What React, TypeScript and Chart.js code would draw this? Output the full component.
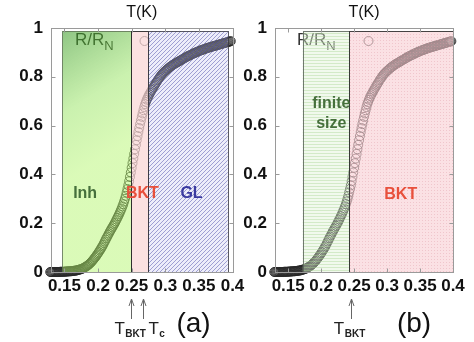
import React, { useEffect, useRef } from 'react';
import { Chart, registerables } from 'chart.js';

Chart.register(...registerables);

// ---- data ----
const tempK = [
  0.125, 0.12625, 0.1275, 0.12875, 0.13, 0.13125, 0.1325, 0.13375,
  0.135, 0.13625, 0.1375, 0.13875, 0.14, 0.14125, 0.1425, 0.14375,
  0.145, 0.14625, 0.1475, 0.14875, 0.15, 0.15125, 0.1525, 0.15375,
  0.155, 0.15625, 0.1575, 0.15875, 0.16, 0.16125, 0.1625, 0.16375,
  0.165, 0.16625, 0.1675, 0.16875, 0.17, 0.17125, 0.1725, 0.17375,
  0.175, 0.17625, 0.1775, 0.17875, 0.18, 0.18125, 0.1825, 0.18375,
  0.185, 0.18625, 0.1875, 0.18875, 0.19, 0.19125, 0.1925, 0.19375,
  0.195, 0.19625, 0.1975, 0.19875, 0.2, 0.20125, 0.2025, 0.20375,
  0.205, 0.20625, 0.2075, 0.20875, 0.21, 0.21125, 0.2125, 0.21375,
  0.215, 0.21625, 0.2175, 0.21875, 0.22, 0.22125, 0.2225, 0.22375,
  0.225, 0.22625, 0.2275, 0.22875, 0.23, 0.23125, 0.2325, 0.23375,
  0.235, 0.23625, 0.2375, 0.23875, 0.24, 0.24125, 0.2425, 0.24375,
  0.245, 0.24625, 0.2475, 0.24875, 0.25, 0.25125, 0.2525, 0.25375,
  0.255, 0.25625, 0.2575, 0.25875, 0.26, 0.26125, 0.2625, 0.26375,
  0.265, 0.26625, 0.2675, 0.26875, 0.27, 0.27125, 0.2725, 0.27375,
  0.275, 0.27625, 0.2775, 0.27875, 0.28, 0.28125, 0.2825, 0.28375,
  0.285, 0.28625, 0.2875, 0.28875, 0.29, 0.29125, 0.2925, 0.29375,
  0.295, 0.29625, 0.2975, 0.29875, 0.3, 0.30125, 0.3025, 0.30375,
  0.305, 0.30625, 0.3075, 0.30875, 0.31, 0.31125, 0.3125, 0.31375,
  0.315, 0.31625, 0.3175, 0.31875, 0.32, 0.32125, 0.3225, 0.32375,
  0.325, 0.32625, 0.3275, 0.32875, 0.33, 0.33125, 0.3325, 0.33375,
  0.335, 0.33625, 0.3375, 0.33875, 0.34, 0.34125, 0.3425, 0.34375,
  0.345, 0.34625, 0.3475, 0.34875, 0.35, 0.35125, 0.3525, 0.35375,
  0.355, 0.35625, 0.3575, 0.35875, 0.36, 0.36125, 0.3625, 0.36375,
  0.365, 0.36625, 0.3675, 0.36875, 0.37, 0.37125, 0.3725, 0.37375,
  0.375, 0.37625, 0.3775, 0.37875, 0.38, 0.38125, 0.3825, 0.38375,
  0.385, 0.38625, 0.3875, 0.38875, 0.39, 0.39125, 0.3925, 0.39375,
  0.395, 0.39625, 0.3975,
];
const rNorm = [
  0, 0, 0, 0, 0, 0, 0, 0,
  0, 0, 0, 0, 0, 0, 0, 0.001,
  0.001, 0.001, 0.001, 0.001, 0.001, 0.002, 0.002, 0.002,
  0.002, 0.003, 0.003, 0.003, 0.003, 0.004, 0.004, 0.005,
  0.005, 0.006, 0.006, 0.007, 0.008, 0.009, 0.01, 0.011,
  0.012, 0.013, 0.015, 0.017, 0.019, 0.021, 0.023, 0.025,
  0.028, 0.031, 0.034, 0.037, 0.041, 0.045, 0.049, 0.053,
  0.058, 0.062, 0.067, 0.072, 0.077, 0.082, 0.088, 0.093,
  0.099, 0.105, 0.111, 0.118, 0.125, 0.132, 0.139, 0.145,
  0.152, 0.158, 0.165, 0.171, 0.177, 0.183, 0.189, 0.195,
  0.201, 0.208, 0.215, 0.222, 0.229, 0.236, 0.244, 0.252,
  0.26, 0.269, 0.278, 0.289, 0.3, 0.312, 0.326, 0.34,
  0.355, 0.372, 0.39, 0.408, 0.427, 0.446, 0.465, 0.484,
  0.503, 0.521, 0.54, 0.557, 0.574, 0.59, 0.606, 0.621,
  0.636, 0.65, 0.663, 0.676, 0.688, 0.697, 0.706, 0.714,
  0.721, 0.728, 0.734, 0.74, 0.746, 0.752, 0.758, 0.764,
  0.769, 0.775, 0.78, 0.786, 0.791, 0.796, 0.801, 0.806,
  0.81, 0.814, 0.817, 0.821, 0.824, 0.827, 0.83, 0.833,
  0.836, 0.839, 0.841, 0.844, 0.846, 0.849, 0.851, 0.853,
  0.855, 0.857, 0.859, 0.861, 0.863, 0.865, 0.867, 0.869,
  0.871, 0.873, 0.875, 0.877, 0.879, 0.881, 0.883, 0.885,
  0.886, 0.888, 0.889, 0.891, 0.893, 0.895, 0.896, 0.898,
  0.899, 0.901, 0.902, 0.904, 0.905, 0.907, 0.908, 0.909,
  0.91, 0.912, 0.913, 0.914, 0.915, 0.917, 0.918, 0.919,
  0.92, 0.921, 0.922, 0.923, 0.924, 0.925, 0.926, 0.927,
  0.928, 0.929, 0.93, 0.931, 0.932, 0.933, 0.934, 0.935,
  0.936, 0.937, 0.938, 0.939, 0.94, 0.941, 0.942, 0.943,
  0.944, 0.945, 0.946,
];
const xTickValues = [0.15, 0.2, 0.25, 0.3, 0.35, 0.4];
const yTickValues = [0, 0.2, 0.4, 0.6, 0.8, 1];
const xRange = [0.13, 0.4];
const yRange = [0, 1];

// panel (a): Inh | BKT | GL region edges in T(K)
const regionEdgesA = [0.147, 0.249, 0.2746, 0.393];
const regionTopA = 0.987;
// panel (b): finite size | BKT region edges in T(K)
const regionEdgesB = [0.172, 0.2428, 0.4];
const regionTopB = 0.988;
// arrows below axis
const tBKTa = 0.2497;
const tCa = 0.2675;
const tBKTb = 0.245;

const FAMILY = "'Liberation Sans', Arial, Helvetica, sans-serif";
const GREEN_TXT = '#46703c';
const RED_TXT = '#e8503c';
const BLUE_TXT = '#3a3aa0';

function makeTile(w: number, h: number, draw: (g: CanvasRenderingContext2D) => void) {
  const c = document.createElement('canvas');
  c.width = w;
  c.height = h;
  const g = c.getContext('2d')!;
  draw(g);
  return c;
}

const hatchTile = () =>
  makeTile(4, 4, (g) => {
    g.fillStyle = 'rgba(195,195,238,0.3)';
    g.fillRect(0, 0, 4, 4);
    g.strokeStyle = 'rgba(80,80,170,0.5)';
    g.lineWidth = 1;
    g.beginPath();
    g.moveTo(0, 4); g.lineTo(4, 0);
    g.moveTo(-1, 1); g.lineTo(1, -1);
    g.moveTo(3, 5); g.lineTo(5, 3);
    g.stroke();
  });
const stripeTile = () =>
  makeTile(1, 3, (g) => {
    g.fillStyle = 'rgba(220,240,210,0.4)';
    g.fillRect(0, 0, 1, 3);
    g.fillStyle = 'rgba(170,215,150,0.42)';
    g.fillRect(0, 0, 1, 1);
  });
const dotTile = () =>
  makeTile(3, 3, (g) => {
    g.fillStyle = 'rgba(248,205,210,0.6)';
    g.fillRect(0, 0, 3, 3);
    g.fillStyle = 'rgba(225,160,170,0.4)';
    g.fillRect(1, 1, 1, 1);
  });

type Panel = 'a' | 'b';

function drawSubLabel(ctx: CanvasRenderingContext2D, x: number, y: number, sub: string) {
  ctx.save();
  ctx.fillStyle = '#222';
  ctx.textAlign = 'left';
  ctx.textBaseline = 'alphabetic';
  ctx.font = `17px ${FAMILY}`;
  ctx.fillText('T', x, y);
  const w = ctx.measureText('T').width;
  ctx.font = `bold 10px ${FAMILY}`;
  ctx.fillText(sub, x + w + 0.5, y + 3);
  ctx.restore();
}

function drawArrow(ctx: CanvasRenderingContext2D, x: number) {
  ctx.save();
  ctx.strokeStyle = '#666';
  ctx.lineWidth = 1;
  const xx = Math.round(x) + 0.5;
  ctx.beginPath();
  ctx.moveTo(xx, 319);
  ctx.lineTo(xx, 299);
  ctx.moveTo(xx - 2.5, 306);
  ctx.lineTo(xx, 299);
  ctx.lineTo(xx + 2.5, 306);
  ctx.stroke();
  ctx.restore();
}

function makePlugin(panel: Panel) {
  return {
    id: 'panelDeco' + panel,
    beforeDatasetsDraw(chart: any) {
      const { ctx, chartArea } = chart;
      // legend key (drawn under the shaded regions)
      ctx.save();
      ctx.fillStyle = '#333';
      ctx.textBaseline = 'alphabetic';
      ctx.textAlign = 'left';
      ctx.font = `17px ${FAMILY}`;
      const lx = chartArea.left + (panel === 'a' ? 24 : 22);
      ctx.fillText('R/R', lx, 45);
      const w = ctx.measureText('R/R').width;
      ctx.font = `13px ${FAMILY}`;
      ctx.fillText('N', lx + w, 50);
      ctx.beginPath();
      ctx.strokeStyle = '#444';
      ctx.lineWidth = 1;
      ctx.arc(chartArea.left + 93.5, 41, 4.5, 0, Math.PI * 2);
      ctx.stroke();
      ctx.restore();
    },
    afterDatasetsDraw(chart: any) {
      const { ctx, chartArea, scales } = chart;
      const xs = scales.x;
      const ys = scales.y;
      const bottom = ys.getPixelForValue(0);
      ctx.save();
      const rect = (t0: number, t1: number, top: number, fill: any) => {
        const x0 = xs.getPixelForValue(t0);
        const x1 = xs.getPixelForValue(t1);
        const y0 = ys.getPixelForValue(top);
        ctx.fillStyle = fill;
        ctx.fillRect(x0, y0, x1 - x0, bottom - y0);
        return [x0, y0, x1];
      };
      const border = (x0: number, y0: number, x1: number, color: string) => {
        ctx.strokeStyle = color;
        ctx.lineWidth = 1;
        ctx.strokeRect(Math.round(x0) + 0.5, Math.round(y0) + 0.5, Math.round(x1) - Math.round(x0), Math.round(bottom) - Math.round(y0));
      };
      if (panel === 'a') {
        const g0 = xs.getPixelForValue(regionEdgesA[0]);
        const g1 = xs.getPixelForValue(regionEdgesA[1]);
        const topPx = ys.getPixelForValue(regionTopA);
        const grad = ctx.createLinearGradient(g0, topPx, g1, topPx + (bottom - topPx) * 0.45);
        grad.addColorStop(0, 'rgba(50,150,30,0.55)');
        grad.addColorStop(0.55, 'rgba(140,225,80,0.46)');
        grad.addColorStop(1, 'rgba(175,245,100,0.46)');
        const r1 = rect(regionEdgesA[0], regionEdgesA[1], regionTopA, grad);
        const r2 = rect(regionEdgesA[1], regionEdgesA[2], regionTopA, 'rgba(249,212,212,0.7)');
        const r3 = rect(regionEdgesA[2], regionEdgesA[3], regionTopA, ctx.createPattern(hatchTile(), 'repeat'));
        border(r1[0], r1[1], r1[2], 'rgba(90,110,80,0.8)');
        border(r2[0], r2[1], r2[2], 'rgba(40,40,40,0.9)');
        border(r3[0], r3[1], r3[2], 'rgba(60,60,70,0.85)');
      } else {
        const r1 = rect(regionEdgesB[0], regionEdgesB[1], regionTopB, ctx.createPattern(stripeTile(), 'repeat'));
        const r2 = rect(regionEdgesB[1], regionEdgesB[2], regionTopB, ctx.createPattern(dotTile(), 'repeat'));
        border(r1[0], r1[1], r1[2], 'rgba(90,100,90,0.85)');
        border(r2[0], r2[1], r2[2], 'rgba(50,50,50,0.9)');
      }

      // frame
      const L = Math.round(chartArea.left) + 0.5;
      const R = Math.round(chartArea.right) + 0.5;
      const T = Math.round(chartArea.top) + 0.5;
      const B = Math.round(chartArea.bottom) + 0.5;
      ctx.strokeStyle = '#9a9a9a';
      ctx.lineWidth = 1;
      ctx.strokeRect(L, T, R - L, B - T);
      // inward mirrored ticks
      ctx.beginPath();
      xTickValues.forEach((v) => {
        const x = Math.round(xs.getPixelForValue(v)) + 0.5;
        ctx.moveTo(x, T); ctx.lineTo(x, T + 4);
        ctx.moveTo(x, B); ctx.lineTo(x, B - 4);
      });
      yTickValues.forEach((v) => {
        const y = Math.round(ys.getPixelForValue(v)) + 0.5;
        ctx.moveTo(L, y); ctx.lineTo(L + 4, y);
        ctx.moveTo(R, y); ctx.lineTo(R - 4, y);
      });
      ctx.stroke();

      // region labels
      ctx.font = `bold 16px ${FAMILY}`;
      ctx.textAlign = 'center';
      ctx.textBaseline = 'middle';
      const label = (text: string, t: number, r: number, color: string) => {
        ctx.fillStyle = color;
        ctx.fillText(text, xs.getPixelForValue(t), ys.getPixelForValue(r));
      };
      if (panel === 'a') {
        label('Inh', 0.1808, 0.32, GREEN_TXT);
        label('BKT', 0.266, 0.32, RED_TXT);
        label('GL', 0.339, 0.32, BLUE_TXT);
      } else {
        label('finite', 0.2154, 0.691, GREEN_TXT);
        label('size', 0.2154, 0.609, GREEN_TXT);
        label('BKT', 0.3207, 0.316, RED_TXT);
      }

      // title
      ctx.fillStyle = '#111';
      ctx.font = `16px ${FAMILY}`;
      ctx.fillText('T(K)', (chartArea.left + chartArea.right) / 2, 13);

      // arrows & temperature labels
      if (panel === 'a') {
        const xb = xs.getPixelForValue(tBKTa);
        const xc = xs.getPixelForValue(tCa);
        drawArrow(ctx, xb);
        drawArrow(ctx, xc);
        drawSubLabel(ctx, xb - 17, 334, 'BKT');
        drawSubLabel(ctx, xc + 5, 334, 'c');
      } else {
        const xb = xs.getPixelForValue(tBKTb);
        drawArrow(ctx, xb);
        drawSubLabel(ctx, xb - 17, 334, 'BKT');
      }
      // panel letter
      ctx.fillStyle = '#111';
      ctx.font = `28px ${FAMILY}`;
      ctx.textAlign = 'center';
      ctx.textBaseline = 'middle';
      ctx.fillText(panel === 'a' ? '(a)' : '(b)', chartArea.right - 39, 324);
      ctx.restore();
    },
  };
}

interface PanelSpec {
  panel: Panel;
  canvasLeft: number;
  canvasWidth: number;
  yAxisWidth: number;
  padRight: number;
}

const PANELS: PanelSpec[] = [
  { panel: 'a', canvasLeft: 0, canvasWidth: 260, yAxisWidth: 51, padRight: 27.5 },
  { panel: 'b', canvasLeft: 214, canvasWidth: 260, yAxisWidth: 61, padRight: 21 },
];

function PanelChart({ spec }: { spec: PanelSpec }) {
  const ref = useRef<HTMLCanvasElement>(null);
  useEffect(() => {
    const tickFont = { family: FAMILY, size: 17, weight: 'bold' as const };
    const chart = new Chart(ref.current!, {
      type: 'scatter',
      data: {
        datasets: [
          {
            data: tempK.map((t, i) => ({ x: t, y: rNorm[i] })),
            pointStyle: 'circle',
            pointRadius: 4.5,
            borderWidth: 1,
            borderColor: 'rgba(40,40,40,0.85)',
            backgroundColor: 'rgba(0,0,0,0)',
            showLine: false,
            clip: false as any,
          },
        ],
      },
      options: {
        responsive: false,
        animation: false,
        events: [],
        layout: { padding: { left: 0, right: spec.padRight, top: 28, bottom: 0 } },
        plugins: {
          legend: { display: false },
          tooltip: { enabled: false },
          title: { display: false },
        },
        scales: {
          x: {
            type: 'linear',
            min: xRange[0],
            max: xRange[1],
            afterBuildTicks: (s: any) => {
              s.ticks = xTickValues.map((v) => ({ value: v }));
            },
            afterFit: (s: any) => {
              s.height = 70;
            },
            grid: { display: false, drawTicks: false },
            border: { display: false },
            ticks: {
              autoSkip: false,
              maxRotation: 0,
              minRotation: 0,
              padding: 4,
              color: '#111',
              font: tickFont,
              callback: (v: any) => String(v),
            },
          },
          y: {
            type: 'linear',
            min: yRange[0],
            max: yRange[1],
            afterBuildTicks: (s: any) => {
              s.ticks = yTickValues.map((v) => ({ value: v }));
            },
            afterFit: (s: any) => {
              s.width = spec.yAxisWidth;
            },
            grid: { display: false, drawTicks: false },
            border: { display: false },
            ticks: {
              padding: 8,
              color: '#111',
              font: tickFont,
              callback: (v: any) => String(v),
            },
          },
        },
      },
      plugins: [makePlugin(spec.panel)],
    });
    return () => chart.destroy();
  }, [spec]);
  return (
    <canvas
      ref={ref}
      width={spec.canvasWidth}
      height={342}
      style={{ position: 'absolute', left: spec.canvasLeft, top: 0, width: spec.canvasWidth, height: 342 }}
    />
  );
}

export default function App() {
  return (
    <div style={{ position: 'fixed', left: 0, top: 0, width: 474, height: 342, background: '#fff', overflow: 'hidden' }}>
      {PANELS.map((p) => (
        <PanelChart key={p.panel} spec={p} />
      ))}
    </div>
  );
}
